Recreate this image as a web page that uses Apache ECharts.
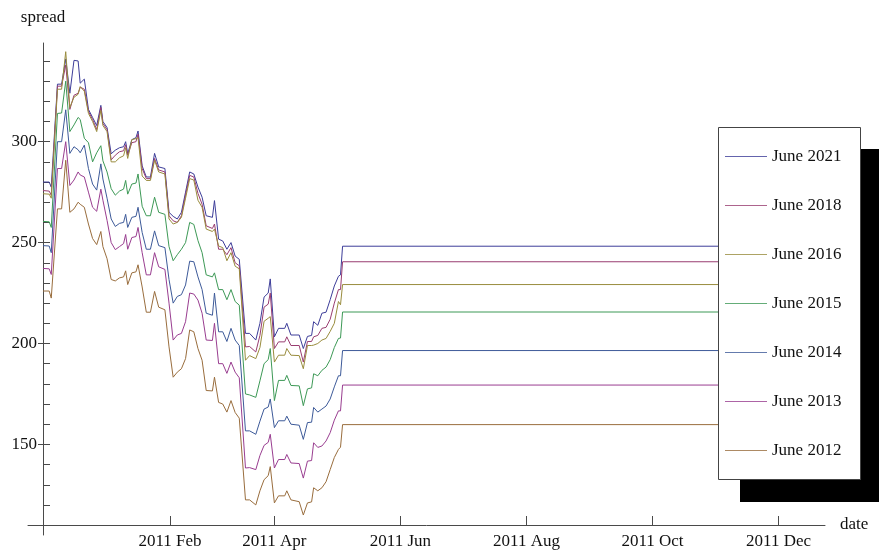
<!DOCTYPE html>
<html>
<head>
<meta charset="utf-8">
<script src="https://cdn.jsdelivr.net/npm/echarts@6/dist/echarts.min.js"></script>
<style>
html, body { margin: 0; padding: 0; background: #ffffff; }
#chart { width: 879px; height: 554px; }
</style>
</head>
<body>
<div id="chart"></div>
<script>
// Observation dates (UTC); the last entry carries the final quotes forward.
const dates = [
  '2010-12-10','2010-12-13','2010-12-14','2010-12-17','2010-12-19','2010-12-21','2010-12-23','2010-12-25',
  '2010-12-27','2010-12-28','2010-12-30','2011-01-01','2011-01-03','2011-01-05','2011-01-07','2011-01-08',
  '2011-01-10','2011-01-12','2011-01-14','2011-01-16','2011-01-18','2011-01-19','2011-01-20','2011-01-22',
  '2011-01-24','2011-01-25','2011-01-27','2011-01-29','2011-01-31','2011-02-02','2011-02-04','2011-02-07',
  '2011-02-09','2011-02-11','2011-02-13','2011-02-15','2011-02-17','2011-02-19','2011-02-21','2011-02-23',
  '2011-02-25','2011-02-27','2011-03-02','2011-03-03','2011-03-05','2011-03-07','2011-03-09','2011-03-11',
  '2011-03-13','2011-03-15','2011-03-18','2011-03-20','2011-03-23','2011-03-25','2011-03-27','2011-03-29',
  '2011-03-30','2011-04-01','2011-04-03','2011-04-06','2011-04-07','2011-04-09','2011-04-13','2011-04-15',
  '2011-04-17','2011-04-19','2011-04-20','2011-04-22','2011-04-24','2011-04-26','2011-04-28','2011-04-30',
  '2011-05-02','2011-05-03','2011-05-04','2011-12-16'
];

const june2021 = [
  280, 280, 277.5, 328.5, 328.5, 341, 324, 340.3, 340, 329, 331, 316, 312, 308, 318, 310,
  307, 294, 295.8, 297, 297.5, 300, 294, 301, 302, 305.3, 288, 282.5, 282.5, 294.2, 287.5, 286.7,
  265, 263, 261.7, 265, 275, 285, 284, 277.5, 272.5, 263.3, 262.5, 270.8, 251.7, 250.8, 246.7, 250,
  243.3, 241.7, 205, 205, 201.7, 210, 223, 225, 232, 203.3, 207.5, 207.5, 210, 204.2, 204.2, 197.5,
  203.5, 204, 210.8, 209, 215, 215.5, 221.7, 228.5, 233.3, 234, 248.2, 248.2
];
const june2018 = [
  275.8, 275.5, 273.5, 327.5, 327.5, 338, 316, 323, 324, 327, 326, 315, 311, 306, 317, 309,
  306, 291, 293.3, 295, 295.5, 298.5, 293.3, 299.5, 300, 303.7, 286.7, 281.7, 281.7, 291.7, 286, 285,
  263.3, 260.8, 260, 263.3, 273.5, 283.3, 282.5, 274.4, 269, 258.3, 257, 259.2, 246.7, 246.7, 244, 247.5,
  240, 238.5, 198.3, 198.5, 195.8, 204, 218, 219.5, 225, 197.5, 200.8, 200.8, 203.3, 199, 199, 190.8,
  201, 201, 203.3, 204, 207.5, 208, 212, 220, 226.7, 226.7, 240.5, 240.5
];
const june2016 = [
  274.2, 274, 272, 326, 326, 344.6, 317, 322, 323.5, 327.3, 325, 314, 310, 305, 315.5, 308,
  305, 290, 290, 292, 293, 297, 291.7, 301, 301.5, 302, 283, 280.8, 280.8, 290.8, 285, 284,
  261.7, 259.2, 260, 262.5, 272, 281.7, 281, 271, 267.5, 256.7, 255.5, 256.7, 248.3, 247.5, 241, 245,
  238.3, 237, 191.7, 194, 192.5, 198, 211, 212.5, 213.3, 190.8, 194.2, 194.2, 197.5, 194.2, 194, 187.5,
  199, 199, 199.2, 200, 201.7, 202.5, 206, 210, 220.8, 219.2, 229.2, 229.2
];
const june2015 = [
  260.5, 260.3, 257.5, 314, 314.2, 330, 305, 308.3, 312, 311, 301.7, 299.5, 290, 294.5, 298, 290.5,
  285, 276.7, 273.5, 275.5, 276.5, 280.8, 274, 279, 279.5, 284, 268, 263.3, 263.3, 272.5, 265, 264,
  248, 241, 244, 246.7, 250, 260, 259, 251, 245, 234, 233, 235, 226.7, 226.7, 221.7, 226.7,
  220.8, 219, 175, 174.5, 173.3, 181.5, 190, 192, 197.5, 171.7, 181.7, 181.7, 184.2, 179.2, 179, 169.2,
  177.5, 178, 185, 184, 186.7, 188.3, 192, 198, 202.5, 202.7, 215.6, 215.6
];
const june2014 = [
  248.5, 248.3, 245, 300, 300, 315.8, 294.2, 297.5, 296, 294.5, 298.3, 286.7, 279, 276, 289, 281.5,
  272, 261.7, 258, 259.5, 260, 264, 257.5, 262.5, 263, 267.5, 255, 246.7, 246.7, 255.8, 248.5, 247.5,
  231.7, 220, 223.3, 224.2, 229, 240.8, 240.5, 233, 226.7, 215, 214, 225, 205.8, 205.8, 201, 207.5,
  201.7, 199, 156.7, 156.7, 155, 161.5, 167.5, 168.5, 172.5, 158.3, 161.7, 161.7, 164, 160, 159.5, 152.5,
  160.8, 161, 168.3, 166, 167.5, 169, 172.5, 178.5, 184, 184, 196.5, 196.5
];
const june2013 = [
  237.2, 237, 234.2, 286.7, 286.7, 300, 278.3, 281, 285, 283.5, 282.5, 275, 267.5, 265.5, 276.5, 271,
  261, 250, 246.5, 248, 249.5, 254, 246.7, 252.5, 253, 257.5, 245, 234, 234, 245, 238, 236.7,
  220, 201.7, 204.2, 205, 210.8, 225, 224.5, 221.5, 215, 201.7, 201.5, 210, 190, 190, 185.2, 190.8,
  185.8, 183, 138.3, 138.5, 137.5, 144.5, 149.5, 151, 155, 138.3, 142.5, 142.5, 145, 140.8, 140.5, 133.3,
  141.7, 142, 150.8, 148.5, 149.2, 151.7, 155.8, 162, 166.6, 166.6, 179.4, 179.4
];
const june2012 = [
  226, 226, 222.5, 266.7, 266.7, 290.8, 265, 266.7, 270, 269, 267.5, 259.2, 252, 249, 255.5, 248,
  242, 231.7, 231, 232.5, 233, 236, 229.2, 235, 235.5, 239, 228, 215.5, 215.5, 225.8, 218, 216.7,
  198.3, 183.3, 185.8, 187.5, 192.5, 206.7, 205.8, 197.5, 191.7, 176.7, 176.5, 183.3, 170.8, 170, 166, 171.7,
  165.8, 163, 122.5, 122.5, 120, 127, 132.5, 134.5, 139, 121, 124.5, 124.5, 127, 122.5, 121.6, 115,
  121, 121.5, 128.5, 127, 128.5, 131.5, 137.5, 143.5, 147.5, 148.6, 159.8, 159.8
];

const seriesNames = ['June 2021', 'June 2018', 'June 2016', 'June 2015', 'June 2014', 'June 2013', 'June 2012'];
const seriesValues = [june2021, june2018, june2016, june2015, june2014, june2013, june2012];

// Date-axis tick marks and their labels
const xTickDates = ['2011-02-09T12:00:00Z', '2011-04-01T00:00:00Z', '2011-06-01T00:00:00Z',
                    '2011-08-01T00:00:00Z', '2011-10-01T00:00:00Z', '2011-12-01T00:00:00Z'];
const xTickLabels = ['2011 Feb', '2011 Apr', '2011 Jun', '2011 Aug', '2011 Oct', '2011 Dec'];
const yMajorTicks = [150, 200, 250, 300];
const yAllTicks = [120, 130, 140, 150, 160, 170, 180, 190, 200, 210, 220, 230, 240, 250,
                   260, 270, 280, 290, 300, 310, 320, 330, 340];

const DAY = 86400000;
const toTime = s => Date.parse(s.length === 10 ? s + 'T00:00:00Z' : s);
const timeStamps = dates.map(toTime);
const xTicks = xTickDates.map(toTime);
const xMin = toTime('2010-12-10') - 7.26 * DAY;
const xMax = toTime('2010-12-10') + 378.5 * DAY;
const yMin = 105.1, yMax = 348.9;

const palette = ['#3d3d99', '#993d71', '#998c3d', '#3d9956', '#3d5a99', '#993d90', '#996d3d'];
const serif = 'Liberation Serif';
const axisGrey = '#4a4a4a';

// Legend frame: white box with a hard black drop shadow
const legendBox = { x: 718, y: 127, w: 142, h: 352, shadow: 22 };

const chart = echarts.init(document.getElementById('chart'), null, { renderer: 'canvas' });

chart.setOption({
  animation: false,
  backgroundColor: '#ffffff',
  grid: { left: 28, right: 54, top: 43, bottom: 19, containLabel: false },
  graphic: [
    {
      type: 'rect', z: 5, silent: true,
      shape: { x: legendBox.x + legendBox.shadow, y: legendBox.y + legendBox.shadow, width: legendBox.w + 1, height: legendBox.h + 1 },
      style: { fill: '#000000' }
    },
    {
      type: 'rect', z: 5, z2: 1, silent: true,
      shape: { x: legendBox.x + 0.5, y: legendBox.y + 0.5, width: legendBox.w, height: legendBox.h },
      style: { fill: '#ffffff', stroke: '#444444', lineWidth: 1 }
    }
  ],
  xAxis: {
    type: 'value',
    min: xMin,
    max: xMax,
    offset: -10,
    name: 'date',
    nameLocation: 'end',
    nameGap: 15,
    nameTextStyle: { fontFamily: serif, fontSize: 17, color: '#111', align: 'left', verticalAlign: 'middle' },
    axisLine: { onZero: false, lineStyle: { color: axisGrey, width: 1 } },
    axisTick: { inside: true, length: 9, customValues: xTicks, lineStyle: { color: axisGrey } },
    axisLabel: {
      customValues: xTicks,
      margin: 8,
      fontFamily: serif, fontSize: 17, color: '#111',
      formatter: function (v) {
        for (let i = 0; i < xTicks.length; i++) {
          if (Math.abs(xTicks[i] - v) < DAY) return xTickLabels[i];
        }
        return '';
      }
    },
    splitLine: { show: false }
  },
  yAxis: [
    {
      // main axis: line, labels and the outer half of the labelled ticks
      type: 'value',
      position: 'left',
      min: yMin,
      max: yMax,
      offset: -15,
      name: 'spread',
      nameLocation: 'end',
      nameGap: 17,
      nameTextStyle: { fontFamily: serif, fontSize: 17, color: '#111' },
      axisLine: { show: true, onZero: false, lineStyle: { color: axisGrey, width: 1 } },
      axisTick: { show: true, inside: false, length: 5, customValues: yMajorTicks, lineStyle: { color: axisGrey } },
      axisLabel: { customValues: yMajorTicks, margin: 6, fontFamily: serif, fontSize: 17, color: '#111' },
      splitLine: { show: false }
    },
    {
      // inward ticks every 10
      type: 'value',
      position: 'left',
      min: yMin,
      max: yMax,
      offset: -15,
      axisLine: { show: false, onZero: false },
      axisTick: { show: true, inside: true, length: 7, customValues: yAllTicks, lineStyle: { color: axisGrey } },
      axisLabel: { show: false },
      splitLine: { show: false }
    }
  ],
  legend: {
    orient: 'vertical',
    left: 718,
    top: 127,
    z: 6,
    icon: 'rect',
    itemWidth: 42,
    itemHeight: 1,
    itemGap: 32,
    padding: [21, 17, 20, 7],
    backgroundColor: 'transparent',
    borderWidth: 0,
    selectedMode: false,
    itemStyle: { opacity: 0.8 },
    textStyle: { fontFamily: serif, fontSize: 17, color: '#111' },
    data: seriesNames
  },
  series: seriesNames.map((name, i) => ({
    name: name,
    type: 'line',
    yAxisIndex: 0,
    symbol: 'none',
    showSymbol: false,
    clip: true,
    color: palette[i],
    lineStyle: { color: palette[i], width: 1 },
    emphasis: { disabled: true },
    data: timeStamps.map((t, k) => [t, seriesValues[i][k]])
  }))
});
</script>
</body>
</html>
